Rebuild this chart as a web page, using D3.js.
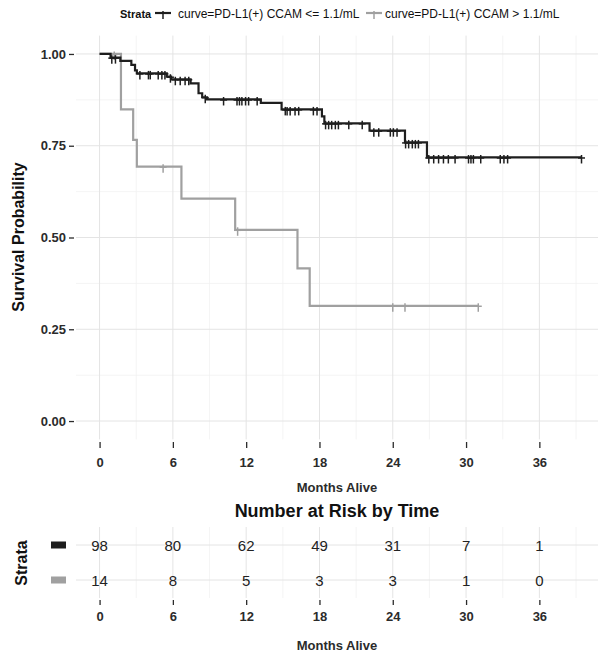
<!DOCTYPE html>
<html><head><meta charset="utf-8">
<script src="https://cdn.jsdelivr.net/npm/d3@7"></script>
<style>body{margin:0;background:#fff}svg{display:block}text{font-family:"Liberation Sans",Arial,sans-serif}</style>
</head><body><svg id="c" width="604" height="659"></svg>
<script>
// ---- data ----
const strataLabels = ["curve=PD-L1(+) CCAM <= 1.1/mL", "curve=PD-L1(+) CCAM > 1.1/mL"];
const strataColors = ["#1e1e1e", "#a0a0a0"];
const lowTimes = [0, 0.9, 1.7, 2.6, 2.9, 3.05, 5.5, 5.85, 7.45, 8.1, 8.4, 8.8, 13.2, 14.9, 18.2, 18.4, 22.1, 25.0, 26.8];
const lowSurv  = [1, 0.99, 0.981, 0.97, 0.955, 0.947, 0.938, 0.931, 0.92, 0.893, 0.882, 0.876, 0.867, 0.849, 0.83, 0.811, 0.791, 0.759, 0.718];
const lowEnd = 39.45;
const lowCensor = [1.0, 1.3, 3.3, 4.0, 4.15, 4.8, 5.1, 5.35, 5.8, 6.2, 6.6, 7.0, 7.3, 8.65, 10.15, 11.25, 11.45, 11.65, 11.95, 12.2, 12.9, 15.2, 15.35, 15.6, 16.0, 16.3, 17.5, 17.8, 18.5, 18.75, 19.0, 19.3, 19.55, 20.4, 21.5, 22.45, 22.85, 23.8, 24.05, 24.35, 25.05, 25.3, 25.6, 25.85, 26.1, 26.95, 27.35, 27.75, 28.15, 28.55, 29.1, 30.2, 30.4, 30.6, 31.2, 32.8, 33.1, 33.4, 39.45];
const highTimes = [0, 1.75, 2.75, 3.05, 6.7, 11.1, 16.2, 17.2];
const highSurv  = [1, 0.849, 0.766, 0.693, 0.606, 0.521, 0.416, 0.314];
const highEnd = 31.0;
const highCensor = [1.2, 5.2, 11.3, 24.0, 25.0, 31.0];
const timeBreaks = [0, 6, 12, 18, 24, 30, 36];
const minorBreaks = [3, 9, 15, 21, 27, 33, 39];
const survBreaks = [0, 0.25, 0.5, 0.75, 1];
const survMinor = [0.125, 0.375, 0.625, 0.875];
const riskLow  = [98, 80, 62, 49, 31, 7, 1];
const riskHigh = [14, 8, 5, 3, 3, 1, 0];

// ---- layout ----
const svg = d3.select("#c");
const x = d3.scaleLinear().domain([-1.93, 40.8]).range([76, 598]);
const y = d3.scaleLinear().domain([-0.05, 1.05]).range([439.4, 35.6]);
const grid = "#e4e4e4", gridMinor = "#f1f1f1", txt = "#2b2b2b";

function stepVal(times, surv, t){ let v = surv[0]; for(let i=0;i<times.length;i++){ if(times[i] <= t) v = surv[i]; } return v; }

// grid
const g = svg.append("g");
minorBreaks.forEach(b=>g.append("line").attr("x1",x(b)).attr("x2",x(b)).attr("y1",y.range()[1]).attr("y2",y.range()[0]).attr("stroke",gridMinor).attr("stroke-width",0.8));
survMinor.forEach(b=>g.append("line").attr("x1",x.range()[0]).attr("x2",x.range()[1]).attr("y1",y(b)).attr("y2",y(b)).attr("stroke",gridMinor).attr("stroke-width",0.8));
timeBreaks.forEach(b=>g.append("line").attr("x1",x(b)).attr("x2",x(b)).attr("y1",y.range()[1]).attr("y2",y.range()[0]).attr("stroke",grid).attr("stroke-width",1));
survBreaks.forEach(b=>g.append("line").attr("x1",x.range()[0]).attr("x2",x.range()[1]).attr("y1",y(b)).attr("y2",y(b)).attr("stroke",grid).attr("stroke-width",1));

// axes
const xAxis = d3.axisBottom(x).tickValues(timeBreaks).tickSize(6).tickPadding(10).tickFormat(d3.format("d"));
const xa = svg.append("g").attr("transform","translate(0,442)").call(xAxis);
xa.select(".domain").remove();
xa.selectAll("line").attr("stroke",txt).attr("stroke-width",1.3);
xa.selectAll("text").attr("fill",txt).style("font-size","13px").style("font-weight","bold");

const yAxis = d3.axisLeft(y).tickValues(survBreaks).tickSize(5).tickPadding(3).tickFormat(d3.format(".2f"));
const ya = svg.append("g").attr("transform","translate(74,0)").call(yAxis);
ya.select(".domain").remove();
ya.selectAll("line").attr("stroke",txt).attr("stroke-width",1.3);
ya.selectAll("text").attr("fill",txt).style("font-size","13px").style("font-weight","bold");

svg.append("text").attr("transform","translate(18,237) rotate(-90)").attr("text-anchor","middle").attr("dominant-baseline","central")
  .style("font-size","16px").style("font-weight","bold").attr("fill","#111").text("Survival Probability");
svg.append("text").attr("x",337).attr("y",492).attr("text-anchor","middle").style("font-size","13px").style("font-weight","bold").attr("fill",txt).text("Months Alive");

// curves
const line = d3.line().curve(d3.curveStepAfter).x(d=>x(d[0])).y(d=>y(d[1]));
function drawCurve(times, surv, end, censor, col){
  const pts = times.map((t,i)=>[t, surv[i]]);
  pts.push([end, surv[surv.length-1]]);
  svg.append("path").datum(pts).attr("d",line).attr("fill","none").attr("stroke",col).attr("stroke-width",2.2);
  const cg = svg.append("g").attr("stroke",col).attr("stroke-width",1.5);
  censor.forEach(t=>{
    const cx = x(t), cy = y(stepVal(times, surv, t));
    cg.append("line").attr("x1",cx-3.5).attr("x2",cx+3.5).attr("y1",cy+0.5).attr("y2",cy+0.5);
    cg.append("line").attr("x1",cx).attr("x2",cx).attr("y1",cy-2.5).attr("y2",cy+6);
  });
}
drawCurve(highTimes, highSurv, highEnd, highCensor, strataColors[1]);
drawCurve(lowTimes, lowSurv, lowEnd, lowCensor, strataColors[0]);

// legend
const lg = svg.append("g");
lg.append("text").attr("x",120).attr("y",18).style("font-size","11px").style("font-weight","bold").attr("fill","#111").text("Strata");
const keyX = [155, 366], labX = [178, 385];
strataLabels.forEach((s,i)=>{
  lg.append("line").attr("x1",keyX[i]).attr("x2",keyX[i]+16).attr("y1",13).attr("y2",13).attr("stroke",strataColors[i]).attr("stroke-width",2.2);
  lg.append("line").attr("x1",keyX[i]+8).attr("x2",keyX[i]+8).attr("y1",11).attr("y2",19).attr("stroke",strataColors[i]).attr("stroke-width",1.5);
  lg.append("text").attr("x",labX[i]).attr("y",18).style("font-size","12px").attr("fill","#111").text(s);
});

// risk table
const ry = d3.scalePoint().domain([0,1]).range([545, 580]);
const rTop = 527, rBot = 598;
const rg = svg.append("g");
minorBreaks.forEach(b=>rg.append("line").attr("x1",x(b)).attr("x2",x(b)).attr("y1",rTop).attr("y2",rBot).attr("stroke",gridMinor).attr("stroke-width",0.8));
timeBreaks.forEach(b=>rg.append("line").attr("x1",x(b)).attr("x2",x(b)).attr("y1",rTop).attr("y2",rBot).attr("stroke",grid).attr("stroke-width",1));
[0,1].forEach(k=>rg.append("line").attr("x1",x.range()[0]).attr("x2",x.range()[1]).attr("y1",ry(k)).attr("y2",ry(k)).attr("stroke",grid).attr("stroke-width",1));
[riskLow, riskHigh].forEach((arr,k)=>{
  arr.forEach((v,i)=>rg.append("text").attr("x",x(timeBreaks[i])).attr("y",ry(k)).attr("text-anchor","middle").attr("dominant-baseline","central")
    .style("font-size","15px").attr("fill","#222").text(v));
  rg.append("rect").attr("x",51).attr("y",ry(k)-3.5).attr("width",15).attr("height",7).attr("fill",strataColors[k]);
});
svg.append("text").attr("x",337).attr("y",517).attr("text-anchor","middle").style("font-size","18px").style("font-weight","bold").attr("fill","#111").text("Number at Risk by Time");
svg.append("text").attr("transform","translate(21,563) rotate(-90)").attr("text-anchor","middle").attr("dominant-baseline","central")
  .style("font-size","16px").style("font-weight","bold").attr("fill","#111").text("Strata");
const xa2 = svg.append("g").attr("transform","translate(0,600)").call(d3.axisBottom(x).tickValues(timeBreaks).tickSize(5).tickPadding(7).tickFormat(d3.format("d")));
xa2.select(".domain").remove();
xa2.selectAll("line").attr("stroke",txt).attr("stroke-width",1.3);
xa2.selectAll("text").attr("fill",txt).style("font-size","13px").style("font-weight","bold");
svg.append("text").attr("x",337).attr("y",650).attr("text-anchor","middle").style("font-size","13px").style("font-weight","bold").attr("fill",txt).text("Months Alive");
</script></body></html>
